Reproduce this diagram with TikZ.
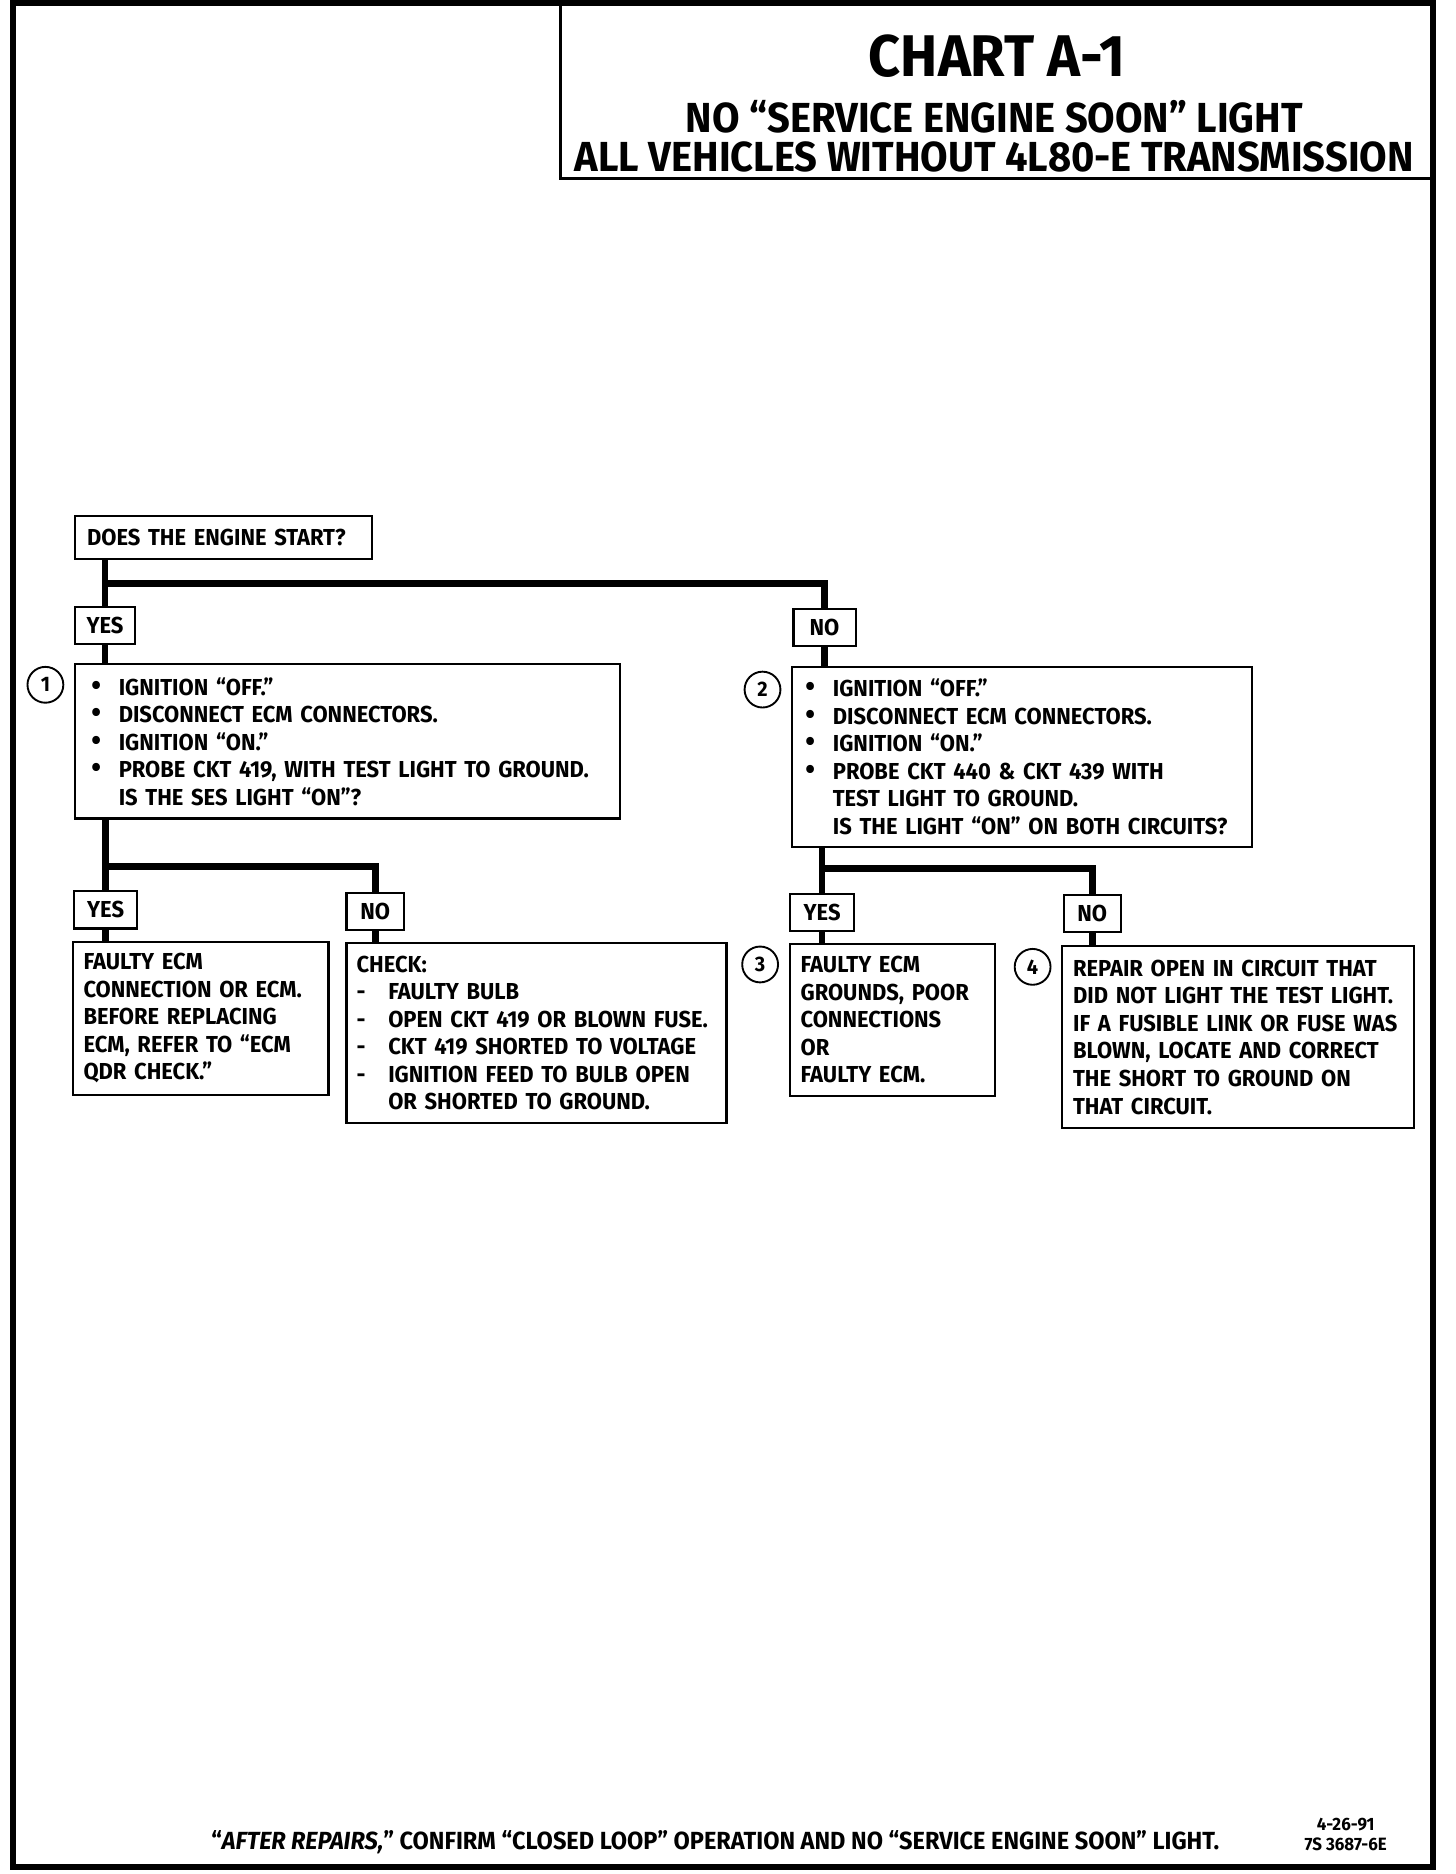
\documentclass[tikz,border=0pt]{standalone}
\usepackage{fontspec}
\setmainfont{Fira Sans}[FakeStretch=0.95]

\newcommand{\bul}{\makebox[0.46cm][l]{\fontsize{14}{13}\selectfont\textbullet}}
\newcommand{\dsh}{\makebox[0.53cm][l]{-}}

\begin{document}
\begin{tikzpicture}[
  box/.style={draw, line width=1pt, anchor=north west, align=left, inner ysep=0pt,
    font=\fontsize{11}{13.1}\selectfont\bfseries},
  tag/.style={draw, line width=1pt, anchor=north west, inner sep=0pt, minimum height=0.62cm,
    font=\fontsize{11}{13}\selectfont\bfseries},
  num/.style={draw, circle, line width=0.9pt, minimum size=0.6cm, inner sep=0pt,
    font=\fontsize{10}{12}\selectfont\bfseries},
  link/.style={line width=3.2pt}
]
\useasboundingbox (0,0) rectangle (24.36,31.36);
\draw[line width=2.6pt] (0.22,0.12) rectangle (23.98,31.31);
\draw[line width=1.3pt] (9.38,31.31) |- (23.98,28.37);

\node (chart) at (16.68,30.42) {\fontsize{28}{30}\selectfont\bfseries CHART A-1};
\node[align=center, inner sep=0pt, font=\fontsize{20}{18.2}\selectfont\bfseries] (title) at (16.64,29.08)
  {NO ``SERVICE ENGINE SOON'' LIGHT\\ALL VEHICLES WITHOUT 4L80-E TRANSMISSION};

% question
\node[box, inner xsep=0.2cm, text width=4.56cm, minimum height=0.72cm] (start) at (1.24,22.74) {DOES THE ENGINE START?};
\node[tag, minimum width=1.0cm] (yes1) at (1.24,21.22) {YES};
\node[tag, minimum width=1.04cm] (no1) at (13.26,21.18) {NO};

% first checks
\node[box, inner xsep=0.27cm, text width=8.58cm, minimum height=2.58cm] (probe1) at (1.24,20.26)
  {\bul IGNITION ``OFF.''\\
   \bul DISCONNECT ECM CONNECTORS.\\
   \bul IGNITION ``ON.''\\
   \bul PROBE CKT 419, WITH TEST LIGHT TO GROUND.\\
   \hspace*{0.46cm}IS THE SES LIGHT ``ON''?};
\node[num] (n1) at (0.76,19.90) {1};

\node[box, inner xsep=0.22cm, text width=7.26cm, minimum height=3.02cm] (probe2) at (13.24,20.22)
  {\bul IGNITION ``OFF.''\\
   \bul DISCONNECT ECM CONNECTORS.\\
   \bul IGNITION ``ON.''\\
   \bul PROBE CKT 440 \& CKT 439 WITH\\
   \hspace*{0.46cm}TEST LIGHT TO GROUND.\\
   \hspace*{0.46cm}IS THE LIGHT ``ON'' ON BOTH CIRCUITS?};
\node[num] (n2) at (12.76,19.82) {2};

\node[tag, minimum width=1.06cm] (yes2) at (1.22,16.46) {YES};
\node[tag, minimum width=0.96cm] (no2) at (5.78,16.44) {NO};
\node[tag, minimum width=1.08cm] (yes3) at (13.20,16.42) {YES};
\node[tag, minimum width=0.96cm] (no3) at (17.78,16.40) {NO};

% results
\node[box, inner xsep=0.18cm, text width=3.92cm, minimum height=2.56cm] (res1) at (1.20,15.62)
  {FAULTY ECM\\
   CONNECTION OR ECM.\\
   BEFORE REPLACING\\
   ECM, REFER TO ``ECM\\
   QDR CHECK.''};
\node[box, inner xsep=0.17cm, text width=6.02cm, minimum height=3.02cm] (res2) at (5.78,15.60)
  {CHECK:\\
   \dsh FAULTY BULB\\
   \dsh OPEN CKT 419 OR BLOWN FUSE.\\
   \dsh CKT 419 SHORTED TO VOLTAGE\\
   \dsh IGNITION FEED TO BULB OPEN\\
   \hspace*{0.53cm}OR SHORTED TO GROUND.};
\node[box, inner xsep=0.18cm, text width=3.08cm, minimum height=2.54cm] (res3) at (13.20,15.58)
  {FAULTY ECM\\
   GROUNDS, POOR\\
   CONNECTIONS\\
   OR\\
   FAULTY ECM.};
\node[num] (n3) at (12.72,15.22) {3};
\node[box, inner xsep=0.18cm, text width=5.52cm, minimum height=3.04cm] (res4) at (17.76,15.54)
  {REPAIR OPEN IN CIRCUIT THAT\\
   DID NOT LIGHT THE TEST LIGHT.\\
   IF A FUSIBLE LINK OR FUSE WAS\\
   BLOWN, LOCATE AND CORRECT\\
   THE SHORT TO GROUND ON\\
   THAT CIRCUIT.};
\node[num] (n4) at (17.28,15.18) {4};

% connectors
\coordinate (split0) at (yes1.north |- 0,21.60);
\coordinate (split1) at (yes2.north |- 0,16.86);
\coordinate (split2) at (yes3.north |- 0,16.82);
\draw[link] (start.south -| yes1.north) -- (yes1.north);
\draw[link] (split0) -| (no1.north);
\draw[link] (yes1.south) -- (probe1.north -| yes1.south);
\draw[link] (no1.south) -- (probe2.north -| no1.south);
\draw[link] (probe1.south -| yes2.north) -- (yes2.north);
\draw[link] (split1) -| (no2.north);
\draw[link] (yes2.south) -- (res1.north -| yes2.south);
\draw[link] (no2.south) -- (res2.north -| no2.south);
\draw[link] (probe2.south -| yes3.north) -- (yes3.north);
\draw[link] (split2) -| (no3.north);
\draw[link] (yes3.south) -- (res3.north -| yes3.south);
\draw[link] (no3.south) -- (res4.north -| no3.south);

\node (footer) at (11.97,0.54) {\fontsize{11.8}{13}\selectfont\bfseries ``\textit{AFTER REPAIRS,}'' CONFIRM ``CLOSED LOOP'' OPERATION AND NO ``SERVICE ENGINE SOON'' LIGHT.};
\node[align=center, font=\fontsize{8.5}{9.6}\selectfont\bfseries] (code) at (22.52,0.66) {4-26-91\\7S 3687-6E};
\end{tikzpicture}
\end{document}
